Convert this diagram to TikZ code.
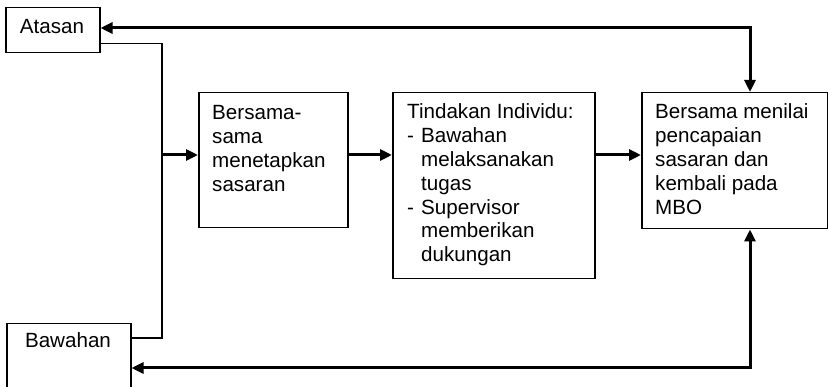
\documentclass[tikz,border=0pt]{standalone}
\usepackage{fontspec}
\setmainfont{Liberation Sans}
\usetikzlibrary{arrows.meta,calc}
\begin{document}
\begin{tikzpicture}[x=1pt,y=-1pt,
  box/.style={draw=black,line width=1.5pt,rectangle,inner sep=0pt,anchor=north west},
  txt/.style={inner sep=0pt,anchor=base west,font=\fontsize{20.6}{23.8}\selectfont},
  thinline/.style={line width=1.5pt},
  arr/.style={line width=3pt,-{Triangle[length=12pt,width=11pt]}},
  biarr/.style={line width=3pt,{Triangle[length=12pt,width=11pt]}-{Triangle[length=12pt,width=11pt]}}]
\useasboundingbox (0,0) rectangle (828,387);
\clip (0,0) rectangle (828,387);
% boxes
\node[box,minimum width=94pt,minimum height=45pt] (atasan) at (5,7) {};
\node[box,minimum width=124pt,minimum height=90pt] (bawahan) at (6,323) {};
\node[box,minimum width=149pt,minimum height=135pt] (b1) at (198,92) {};
\node[box,minimum width=202pt,minimum height=186pt] (b2) at (392,92) {};
\node[box,minimum width=186pt,minimum height=136pt] (b3) at (641,92) {};
% texts
\node[txt,anchor=base] (tatasan) at (52,34) {Atasan};
\node[txt,anchor=base] (tbawahan) at (68,348) {Bawahan};
\node[txt] (t1) at (212,120) {\parbox[t]{140pt}{\raggedright Bersama-\\sama\\menetapkan\\sasaran}};
\node[txt] (t2) at (407,119) {\parbox[t]{185pt}{\raggedright Tindakan Individu:\\
\makebox[14pt][l]{-}Bawahan\\
\hspace*{14pt}melaksanakan\\
\hspace*{14pt}tugas\\
\makebox[14pt][l]{-}Supervisor\\
\hspace*{14pt}memberikan\\
\hspace*{14pt}dukungan}};
\node[txt] (t3) at (655,119) {\parbox[t]{172pt}{\raggedright Bersama menilai\\pencapaian\\sasaran dan\\kembali pada\\MBO}};
% coordinates
\coordinate (bus) at (162,155);
\coordinate (tr) at (750,28);
\coordinate (br) at (750,368);
% connectors
\draw[thinline] ($(atasan.east)+(0,13.5)$) -| (bus) |- ($(bawahan.north east)+(0,15)$);
\draw[arr] (bus) -- (bus -| b1.west);
\draw[arr] (b1.east |- bus) -- (b2.west |- bus);
\draw[arr] (b2.east |- bus) -- (b3.west |- bus);
\draw[biarr] (atasan.east |- tr) -- (tr) -- (tr |- b3.north);
\draw[biarr] (bawahan.east |- br) -- (br) -- (br |- b3.south);
\end{tikzpicture}
\end{document}
